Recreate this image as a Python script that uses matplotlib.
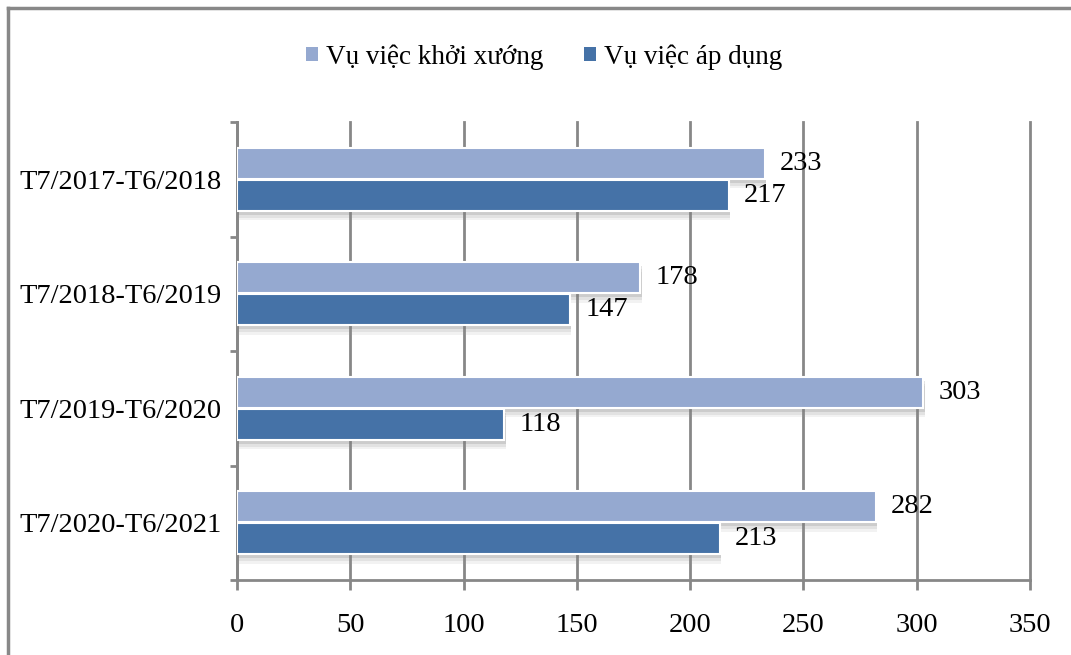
import numpy as np
import matplotlib
matplotlib.use("Agg")
import matplotlib.pyplot as plt
import matplotlib.patheffects as pe
from matplotlib.lines import Line2D

plt.rcParams['font.family'] = ['Liberation Serif', 'DejaVu Serif']

periods = ['T7/2017-T6/2018', 'T7/2018-T6/2019', 'T7/2019-T6/2020', 'T7/2020-T6/2021']
khoi_xuong = [233, 178, 303, 282]
ap_dung = [217, 147, 118, 213]
series_names = ['Vụ việc khởi xướng', 'Vụ việc áp dụng']
x_ticks = [0, 50, 100, 150, 200, 250, 300, 350]

light = '#95A9D0'
dark = '#4572A7'
grid_col = '#878787'
fs = 20.5

fig = plt.figure(figsize=(10.71, 6.55), dpi=100)
ax = fig.add_axes([0.2213, 0.1145, 0.9617 - 0.2213, 0.8137 - 0.1145])

y = np.arange(len(periods))[::-1].astype(float)
h = 0.27
off = 0.14
# soft drop shadow under each bar
shadow = [pe.SimplePatchShadow(offset=(1, -7), shadow_rgbFace='#999999', alpha=0.12),
          pe.SimplePatchShadow(offset=(1, -5), shadow_rgbFace='#888888', alpha=0.15),
          pe.SimplePatchShadow(offset=(1, -3), shadow_rgbFace='#777777', alpha=0.2),
          pe.Normal()]

b1 = ax.barh(y + off, khoi_xuong, height=h, color=light, edgecolor='white', linewidth=1.5,
             label=series_names[0], zorder=3)
b2 = ax.barh(y - off, ap_dung, height=h, color=dark, edgecolor='white', linewidth=1.5,
             label=series_names[1], zorder=3)

for yy, v in zip(y + off, khoi_xuong):
    ax.annotate(str(v), (v, yy), xytext=(11, 0), textcoords='offset points',
                va='center', ha='left', fontsize=fs)
for yy, v in zip(y - off, ap_dung):
    ax.annotate(str(v), (v, yy), xytext=(11, 0), textcoords='offset points',
                va='center', ha='left', fontsize=fs)

ax.set_xlim(0, 350)
ax.set_ylim(-0.5, 3.5)
ax.set_xticks(x_ticks)
ax.set_xticklabels([str(t) for t in x_ticks], fontsize=fs)
ax.set_yticks(y)
ax.set_yticklabels(periods, fontsize=fs)
ax.set_yticks(np.arange(-0.5, 4.0, 1.0), minor=True)
ax.tick_params(axis='y', which='major', length=0, pad=11)
ax.tick_params(axis='y', which='minor', length=5, width=2, color=grid_col)
ax.tick_params(axis='x', length=7, width=2, color=grid_col, pad=17)
ax.grid(axis='x', color=grid_col, linewidth=2, zorder=0)
for gl in ax.get_xgridlines():
    gl.set_clip_on(False)
for s in ('top', 'right'):
    ax.spines[s].set_visible(False)
for s in ('left', 'bottom'):
    ax.spines[s].set_color(grid_col)
    ax.spines[s].set_linewidth(2)

leg = ax.legend(loc='upper center', bbox_to_anchor=(0.508, 0.97),
                bbox_transform=fig.transFigure, ncol=2, frameon=False, fontsize=19.5,
                handlelength=0.45, handleheight=0.45, handletextpad=0.3, columnspacing=1.5)
for hnd in leg.legend_handles:
    hnd.set_edgecolor('none')

# shadows only on the bars, not the legend keys
for bars in (b1, b2):
    for p in bars:
        p.set_path_effects(shadow)

# outer frame (top and left edges)
fig.add_artist(Line2D([8 / 1071, 1], [1 - 8 / 655] * 2, transform=fig.transFigure,
                      color='#888888', linewidth=2.5))
fig.add_artist(Line2D([8 / 1071] * 2, [0, 1 - 8 / 655], transform=fig.transFigure,
                      color='#888888', linewidth=2.5))

fig.savefig('out.png', dpi=100)
